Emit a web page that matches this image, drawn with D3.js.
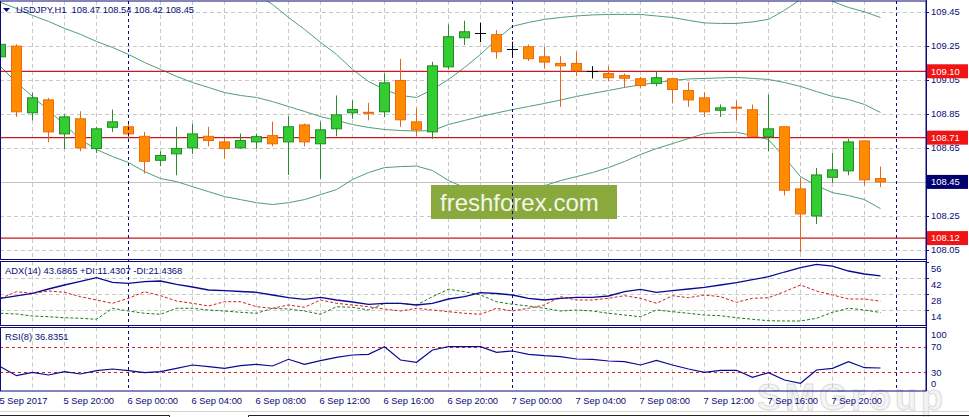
<!DOCTYPE html>
<html><head><meta charset="utf-8">
<script src="https://cdn.jsdelivr.net/npm/d3@7/dist/d3.min.js"></script>
<style>
body{margin:0;background:#fff;overflow:hidden;}
svg{display:block;}
text{font-family:"Liberation Sans",Arial,sans-serif;}
</style>
</head><body>
<svg id="c" width="969" height="417"></svg>
<script>
// ---------------- DATA ----------------
const symbolTitle = "USDJPY,H1  108.47 108.54 108.42 108.45";
const adxTitle = "ADX(14) 43.6865 +DI:11.4307 -DI:21.4368";
const rsiTitle = "RSI(8) 36.8351";

const timeTickIndex = [0,4,8,12,16,20,24,28,32,36,40,44,48,52];
const timeTickLabels = ["5 Sep 2017","5 Sep 20:00","6 Sep 00:00","6 Sep 04:00","6 Sep 08:00","6 Sep 12:00","6 Sep 16:00","6 Sep 20:00","7 Sep 00:00","7 Sep 04:00","7 Sep 08:00","7 Sep 12:00","7 Sep 16:00","7 Sep 20:00"];
const separatorIndex = [8,32,56];

const open  = [109.185,109.248,108.856,108.932,108.732,108.821,108.646,108.771,108.774,108.718,108.577,108.615,108.650,108.718,108.685,108.650,108.685,108.722,108.685,108.785,108.674,108.762,108.856,108.859,108.862,109.046,108.803,108.744,109.126,109.297,109.327,109.315,109.233,109.244,109.185,109.146,109.146,109.101,109.087,109.075,109.056,109.028,109.056,108.987,108.944,108.871,108.889,108.874,108.715,108.774,108.409,108.250,108.477,108.515,108.691,108.470];
const high  = [109.265,109.258,108.974,108.944,108.846,108.865,108.774,108.875,108.806,108.744,108.630,108.774,108.791,108.774,108.709,108.734,108.734,108.804,108.836,108.793,108.804,108.958,108.930,108.915,109.087,109.173,108.885,109.156,109.375,109.397,109.385,109.342,109.274,109.257,109.244,109.189,109.215,109.130,109.130,109.087,109.068,109.100,109.062,109.036,108.977,108.905,108.928,108.905,108.963,108.775,108.474,108.532,108.621,108.703,108.691,108.540];
const low   = [109.130,108.832,108.812,108.683,108.644,108.630,108.620,108.744,108.689,108.499,108.542,108.489,108.615,108.659,108.587,108.645,108.645,108.659,108.491,108.659,108.468,108.718,108.821,108.812,108.830,108.774,108.718,108.703,109.110,109.254,109.271,109.174,109.190,109.160,109.115,108.891,109.071,109.058,109.042,109.003,109.003,109.012,108.911,108.891,108.832,108.832,108.812,108.715,108.630,108.371,108.036,108.203,108.444,108.489,108.430,108.420];
const close = [109.258,108.862,108.944,108.744,108.832,108.650,108.762,108.803,108.732,108.571,108.605,108.646,108.732,108.693,108.646,108.693,108.716,108.674,108.774,108.685,108.756,108.844,108.875,108.857,109.032,108.815,108.756,109.132,109.303,109.332,109.327,109.215,109.233,109.174,109.154,109.132,109.103,109.101,109.062,109.059,109.016,109.062,108.993,108.932,108.862,108.885,108.883,108.718,108.762,108.401,108.262,108.491,108.521,108.685,108.462,108.450];

const bbUpper  = [109.881,109.887,109.899,109.911,109.917,109.922,109.922,109.917,109.899,109.875,109.846,109.805,109.758,109.711,109.664,109.611,109.552,109.493,109.416,109.346,109.270,109.199,109.111,109.040,108.993,108.958,108.946,108.993,109.052,109.122,109.199,109.287,109.364,109.387,109.405,109.416,109.425,109.431,109.434,109.434,109.434,109.425,109.416,109.399,109.384,109.381,109.381,109.390,109.405,109.458,109.522,109.558,109.511,109.475,109.449,109.416];
const bbMiddle = [109.505,109.469,109.428,109.393,109.352,109.317,109.275,109.240,109.199,109.152,109.111,109.070,109.034,109.005,108.975,108.958,108.946,108.922,108.893,108.864,108.834,108.811,108.787,108.770,108.758,108.752,108.749,108.752,108.787,108.811,108.834,108.855,108.875,108.893,108.911,108.931,108.952,108.970,108.987,109.005,109.020,109.034,109.046,109.055,109.058,109.061,109.064,109.058,109.052,109.034,109.011,108.981,108.952,108.934,108.905,108.858];
const bbLower  = [109.128,109.034,108.952,108.870,108.787,108.699,108.640,108.599,108.564,108.511,108.470,108.452,108.422,108.393,108.364,108.346,108.328,108.317,108.328,108.346,108.375,108.405,108.464,108.505,108.534,108.540,108.543,108.517,108.458,108.417,108.393,108.387,108.393,108.405,108.428,108.458,108.481,108.505,108.534,108.570,108.611,108.646,108.675,108.705,108.734,108.740,108.742,108.722,108.699,108.593,108.481,108.428,108.387,108.370,108.346,108.293];

const adx     = [23.99,26.19,28.40,32.19,35.72,38.98,42.16,38.10,37.22,38.63,39.24,36.33,33.95,31.31,30.69,29.98,29.28,26.90,24.52,23.11,24.87,22.49,20.72,18.70,19.58,19.58,18.08,19.58,23.37,25.40,28.93,28.22,26.90,23.99,22.49,23.99,24.87,24.87,26.02,29.81,31.93,29.28,30.69,32.19,33.69,35.72,37.75,40.39,43.04,47.18,50.97,53.97,52.30,48.06,45.42,43.69];
const plusDI  = [10.76,10.14,8.38,7.76,6.88,6.35,5.47,15.17,12.79,10.76,9.88,15.17,15.17,13.67,12.79,11.64,10.76,15.17,14.55,12.79,9.88,16.58,16.05,13.67,19.58,19.58,18.08,25.40,31.93,29.81,26.90,20.99,18.70,17.20,15.17,12.79,13.67,12.79,10.76,9.26,7.76,13.67,12.17,10.76,9.26,8.64,6.88,5.47,4.23,3.97,3.97,6.35,11.64,15.17,13.67,11.43];
const minusDI = [23.99,29.81,28.40,30.43,29.28,25.40,22.49,19.58,23.99,29.81,26.28,21.61,19.58,17.20,20.99,20.99,16.58,15.17,18.08,16.05,22.49,19.58,18.08,16.58,14.55,12.79,15.17,13.67,12.17,10.76,9.88,15.17,12.79,15.17,18.08,25.40,22.49,22.49,23.99,26.28,23.99,19.58,26.28,24.52,26.90,25.40,20.46,23.99,24.52,29.81,35.72,30.43,26.90,23.37,23.37,21.44];
const rsi     = [38.86,24.64,30.02,25.75,30.96,27.33,32.54,35.23,32.54,29.38,30.96,36.33,41.55,38.86,36.33,40.44,42.65,39.97,50.55,42.65,48.34,53.71,57.35,58.45,70.46,49.45,45.81,65.24,70.46,70.46,70.46,61.61,63.66,58.45,56.24,54.66,51.03,50.55,47.87,46.76,41.55,48.97,41.55,35.23,30.02,33.18,33.18,22.12,29.38,17.85,12.64,33.65,36.33,46.76,37.28,36.84];

const priceTicks = [109.45,109.25,109.05,108.85,108.65,108.45,108.25,108.05];
const priceLevels = [109.10,108.71,108.12];
const bidPrice = 108.45;
const adxTicks = [56,42,28,14];
const adxGrid = [42,28,14];
const rsiTicks = [100,70,30,0];
const rsiLevels = [70,30];
const watermark = "freshforex.com";
const brand = "SMGroup";

// ---------------- STYLE / LAYOUT ----------------
const NAVY = "#0a0a78";
const GRID = "#c8c8c8";
const plotRight = 926;
const main = {top:1, bottom:259.5};
const pAdx = {top:261.5, bottom:325.5};
const pRsi = {top:327.5, bottom:391};

const svg = d3.select("#c");
svg.append("rect").attr("width",969).attr("height",417).attr("fill","#fff");

const x = d3.scaleLinear().domain([0,56]).range([0.5,896.5]);
const y = d3.scaleLinear().domain([108.05,109.45]).range([250,11.7]);
const yA = d3.scaleLinear().domain([0,56]).range([325.5,262]);
const yR = d3.scaleLinear().domain([0,100]).range([391.3,328]);
const crisp = v => Math.round(v) + 0.5;
const idx = d3.range(open.length);

// brand watermark (behind everything)
svg.append("text").attr("x",757).attr("y",410).text(brand)
  .attr("font-size",36).attr("font-weight","bold").attr("letter-spacing",4)
  .attr("fill","#f4f4f4").attr("stroke","#dcdcdc").attr("stroke-width",1);

// clip paths
const defs = svg.append("defs");
[["cm",main],["ca",pAdx],["cr",pRsi]].forEach(([id,p])=>{
  defs.append("clipPath").attr("id",id).append("rect")
    .attr("x",0).attr("y",p.top).attr("width",plotRight).attr("height",p.bottom-p.top);
});

// vertical grid in all panels
const gridIdx = d3.range(2,57,2).filter(i=>!separatorIndex.includes(i) && x(i) < plotRight);
[main,pAdx,pRsi].forEach(p=>{
  svg.append("g").selectAll("line").data(gridIdx).join("line")
    .attr("x1",i=>crisp(x(i)-0.5)).attr("x2",i=>crisp(x(i)-0.5))
    .attr("y1",p.top).attr("y2",p.bottom)
    .attr("stroke",GRID).attr("stroke-dasharray","4,3");
});

// main horizontal grid
svg.append("g").selectAll("line").data(priceTicks).join("line")
  .attr("x1",0).attr("x2",plotRight).attr("y1",d=>crisp(y(d))).attr("y2",d=>crisp(y(d)))
  .attr("stroke",GRID).attr("stroke-dasharray","4,3");
// bid line
svg.append("line").attr("x1",0).attr("x2",plotRight)
  .attr("y1",crisp(y(bidPrice))).attr("y2",crisp(y(bidPrice))).attr("stroke","#c4c4c4");

// adx grid
svg.append("g").selectAll("line").data(adxGrid).join("line")
  .attr("x1",0).attr("x2",plotRight).attr("y1",d=>crisp(yA(d))).attr("y2",d=>crisp(yA(d)))
  .attr("stroke",GRID).attr("stroke-dasharray","4,3");

// Bollinger bands
const gm = svg.append("g").attr("clip-path","url(#cm)");
[bbUpper,bbMiddle,bbLower].forEach(arr=>{
  gm.append("path").datum(idx)
    .attr("d",d3.line().x(i=>x(i)).y(i=>y(arr[i])))
    .attr("fill","none").attr("stroke","#4f9e78").attr("stroke-width",1);
});

// watermark box
svg.append("rect").attr("x",431).attr("y",185).attr("width",186).attr("height",34).attr("fill","#89a93c");
svg.append("text").attr("x",440).attr("y",211).text(watermark)
  .attr("font-family","'Open Sans',sans-serif").attr("font-size",24).attr("fill","#f3f6ea");

// level lines
gm.append("g").selectAll("line").data(priceLevels).join("line")
  .attr("x1",0).attr("x2",plotRight).attr("y1",d=>y(d)).attr("y2",d=>y(d))
  .attr("stroke","#c8191e").attr("stroke-width",1.2);

// candles
const cg = gm.append("g");
idx.forEach(i=>{
  const cx = x(i);
  const o=open[i], c=close[i];
  if (o === c) {
    cg.append("line").attr("x1",cx).attr("x2",cx).attr("y1",y(high[i])).attr("y2",y(low[i])).attr("stroke","#000");
    cg.append("line").attr("x1",cx-5.5).attr("x2",cx+5.5).attr("y1",crisp(y(o))).attr("y2",crisp(y(o))).attr("stroke","#000");
    return;
  }
  const bull = c > o;
  const wick = bull ? "#2b8c2b" : "#e8621c";
  cg.append("line").attr("x1",cx).attr("x2",cx).attr("y1",y(high[i])).attr("y2",y(low[i]))
    .attr("stroke",wick).attr("stroke-width",1);
  const top = y(Math.max(o,c)), bot = y(Math.min(o,c));
  cg.append("rect").attr("x",cx-5).attr("width",10)
    .attr("y",top).attr("height",Math.max(1,bot-top))
    .attr("fill",bull ? "#33cc33" : "#ff8c00")
    .attr("stroke",bull ? "#248a24" : "#ec6a10").attr("stroke-width",1);
});

// separators (all panels)
svg.append("g").selectAll("line").data(separatorIndex).join("line")
  .attr("x1",i=>crisp(x(i)-0.5)).attr("x2",i=>crisp(x(i)-0.5))
  .attr("y1",main.top).attr("y2",pRsi.bottom)
  .attr("stroke",NAVY).attr("stroke-dasharray","3,3");

// ADX panel lines
const ga = svg.append("g").attr("clip-path","url(#ca)");
ga.append("path").datum(idx).attr("d",d3.line().x(i=>x(i)).y(i=>yA(minusDI[i])))
  .attr("fill","none").attr("stroke","#d02020").attr("stroke-dasharray","3,2");
ga.append("path").datum(idx).attr("d",d3.line().x(i=>x(i)).y(i=>yA(plusDI[i])))
  .attr("fill","none").attr("stroke","#1c7a1c").attr("stroke-dasharray","3,2");
ga.append("path").datum(idx).attr("d",d3.line().x(i=>x(i)).y(i=>yA(adx[i])))
  .attr("fill","none").attr("stroke","#0a0a90").attr("stroke-width",1.3);

// RSI panel
const gr = svg.append("g").attr("clip-path","url(#cr)");
gr.selectAll("line").data(rsiLevels).join("line")
  .attr("x1",0).attr("x2",plotRight).attr("y1",d=>crisp(yR(d))).attr("y2",d=>crisp(yR(d)))
  .attr("stroke","#d02020").attr("stroke-dasharray","3,3");
gr.append("path").datum(idx).attr("d",d3.line().x(i=>x(i)).y(i=>yR(rsi[i])))
  .attr("fill","none").attr("stroke","#0a0a90").attr("stroke-width",1.2);

// panel borders
[main,pAdx,pRsi].forEach(p=>{
  svg.append("rect").attr("x",0.5).attr("y",p.top).attr("width",plotRight-0.5).attr("height",p.bottom-p.top)
    .attr("fill","none").attr("stroke",NAVY).attr("stroke-width",1);
});

// price axis labels
const FS = 9.4;
svg.append("g").selectAll("text").data(priceTicks.filter(d=>d!==bidPrice)).join("text")
  .attr("x",931).attr("y",d=>y(d)).attr("dy","0.35em").text(d=>d.toFixed(2))
  .attr("font-size",FS).attr("fill",NAVY);
svg.append("g").selectAll("line").data(priceTicks).join("line")
  .attr("x1",plotRight).attr("x2",plotRight+3).attr("y1",d=>crisp(y(d))).attr("y2",d=>crisp(y(d))).attr("stroke",NAVY);

// level labels
priceLevels.forEach(v=>{
  const yy = y(v);
  svg.append("rect").attr("x",927).attr("y",yy-7).attr("width",41).attr("height",14).attr("fill","#f01414");
  svg.append("text").attr("x",931).attr("y",yy).attr("dy","0.35em").text(v.toFixed(2))
    .attr("font-size",FS).attr("fill","#fff");
});
// bid label
{
  const yy = y(bidPrice);
  svg.append("rect").attr("x",927).attr("y",yy-7).attr("width",41).attr("height",14).attr("fill","#00006e");
  svg.append("text").attr("x",931).attr("y",yy).attr("dy","0.35em").text(bidPrice.toFixed(2))
    .attr("font-size",FS).attr("fill","#fff");
}

// ADX axis labels (drawn below their level)
svg.append("g").selectAll("text").data(adxTicks).join("text")
  .attr("x",931).attr("y",d=>yA(d)+7).attr("dy","0.35em").text(d=>d)
  .attr("font-size",FS).attr("fill",NAVY);
svg.append("g").selectAll("line").data(adxTicks).join("line")
  .attr("x1",plotRight).attr("x2",plotRight+3).attr("y1",d=>crisp(yA(d))).attr("y2",d=>crisp(yA(d))).attr("stroke",NAVY);

// RSI axis labels (clamped inside panel)
svg.append("g").selectAll("text").data(rsiTicks).join("text")
  .attr("x",931).attr("y",d=>Math.min(Math.max(yR(d),pRsi.top+6.8),pRsi.bottom-7))
  .attr("dy","0.35em").text(d=>d).attr("font-size",FS).attr("fill",NAVY);

// right axis line
svg.append("line").attr("x1",plotRight+0.5).attr("x2",plotRight+0.5).attr("y1",0).attr("y2",pRsi.bottom).attr("stroke",NAVY);

// time axis labels
svg.append("g").selectAll("text").data(timeTickIndex).join("text")
  .attr("x",(d)=>x(d)-1).attr("y",404).text((d,k)=>timeTickLabels[k])
  .attr("font-size",FS).attr("fill",NAVY);

// titles
svg.append("path").attr("d","M3,8 L10,8 L6.5,12 Z").attr("fill",NAVY);
svg.append("text").attr("x",16).attr("y",12.5).text(symbolTitle).attr("font-size",FS).attr("fill",NAVY).attr("xml:space","preserve").style("white-space","pre");
svg.append("text").attr("x",5).attr("y",273.5).text(adxTitle).attr("font-size",FS).attr("fill",NAVY);
svg.append("text").attr("x",5).attr("y",339.5).text(rsiTitle).attr("font-size",FS).attr("fill",NAVY);

// bottom tab strip
svg.append("line").attr("x1",0).attr("x2",969).attr("y1",411.5).attr("y2",411.5).attr("stroke","#d4d4d4");
svg.append("path").attr("d","M0,415.5 H169.5 V417 M248.5,417 V415.5 H969").attr("fill","none").attr("stroke","#222");
</script>
</body></html>
